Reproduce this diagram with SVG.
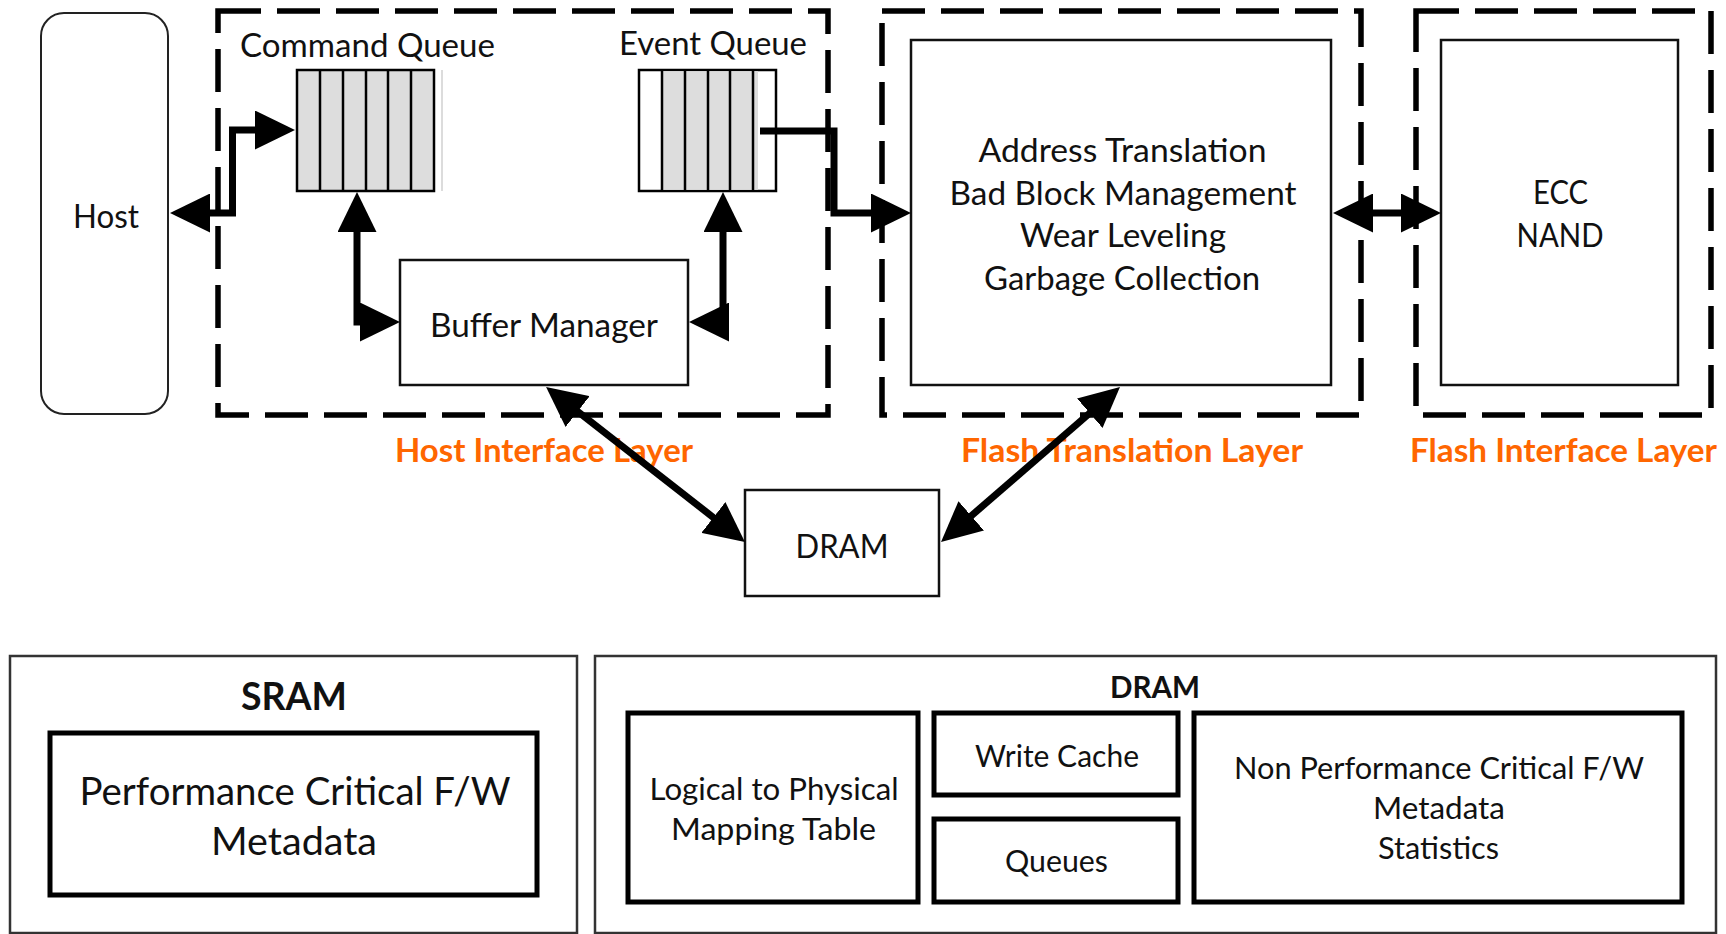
<svg xmlns="http://www.w3.org/2000/svg" width="1726" height="934" viewBox="0 0 1726 934">
  <defs>
    <style>
      text { font-family: Lato, "Liberation Sans", "DejaVu Sans", sans-serif; fill: #111; text-anchor: middle; }
      .t36 { font-size: 32.5px; }
      .t34 { font-size: 30.5px; }
      .t42 { font-size: 38px; }
      .layer { font-size: 32.5px; font-weight: bold; fill: #FF6600; }
      .head { font-weight: bold; }
      .dash { fill: none; stroke: #000; stroke-width: 5.5; stroke-dasharray: 43 16; }
      .box { fill: #fff; stroke: #111; stroke-width: 2.5; }
      .thick { fill: #fff; stroke: #000; stroke-width: 5; }
      .outer { fill: #fff; stroke: #333; stroke-width: 2.5; }
      .qline { stroke: #000; stroke-width: 2.5; }
      .conn { fill: none; stroke: #000; stroke-width: 7; stroke-linejoin: miter; }
    </style>
    <marker id="arrow" markerUnits="userSpaceOnUse" markerWidth="40" markerHeight="39"
            viewBox="0 0 40 39" refX="8" refY="19.5" orient="auto-start-reverse">
      <path d="M0,0 L40,19.5 L0,39 z" fill="#000"/>
    </marker>
  </defs>

  <rect width="1726" height="934" fill="#fff"/>

  <!-- layer frames -->
  <g id="host-interface-layer">
    <rect class="dash" x="218" y="11" width="610" height="404"/>
    <text class="layer" x="544" y="462" textLength="298" lengthAdjust="spacingAndGlyphs">Host Interface Layer</text>
  </g>
  <g id="flash-translation-layer">
    <rect class="dash" x="882" y="11" width="479" height="404"/>
    <text class="layer" x="1132" y="462" textLength="342" lengthAdjust="spacingAndGlyphs">Flash Translation Layer</text>
  </g>
  <g id="flash-interface-layer">
    <rect class="dash" x="1416" y="11" width="295" height="404"/>
    <text class="layer" x="1563.5" y="462" textLength="307" lengthAdjust="spacingAndGlyphs">Flash Interface Layer</text>
  </g>

  <!-- host -->
  <g id="host">
    <rect x="41" y="13" width="127" height="401" rx="23" ry="23" fill="#fff" stroke="#222" stroke-width="2"/>
    <text class="t36" x="106" y="228" textLength="66" lengthAdjust="spacingAndGlyphs">Host</text>
  </g>

  <!-- command queue -->
  <g id="command-queue">
    <text class="t36" x="367.5" y="57" textLength="255" lengthAdjust="spacingAndGlyphs">Command Queue</text>
    <line x1="442" y1="70" x2="442" y2="191" stroke="#d0d0d0" stroke-width="1.5"/>
    <rect x="297" y="70" width="137" height="121" fill="#dddddd" stroke="#000" stroke-width="2.5"/>
    <line class="qline" x1="320" y1="70" x2="320" y2="191"/>
    <line class="qline" x1="343" y1="70" x2="343" y2="191"/>
    <line class="qline" x1="366" y1="70" x2="366" y2="191"/>
    <line class="qline" x1="388" y1="70" x2="388" y2="191"/>
    <line class="qline" x1="411" y1="70" x2="411" y2="191"/>
  </g>

  <!-- event queue -->
  <g id="event-queue">
    <text class="t36" x="713" y="55" textLength="188" lengthAdjust="spacingAndGlyphs">Event Queue</text>
    <rect x="639" y="70" width="137" height="121" fill="#fff" stroke="#000" stroke-width="2.5"/>
    <rect x="662" y="71.25" width="96" height="118.5" fill="#dddddd"/>
    <line class="qline" x1="662" y1="70" x2="662" y2="191"/>
    <line class="qline" x1="685" y1="70" x2="685" y2="191"/>
    <line class="qline" x1="708" y1="70" x2="708" y2="191"/>
    <line class="qline" x1="730" y1="70" x2="730" y2="191"/>
    <line class="qline" x1="753" y1="70" x2="753" y2="191"/>
  </g>

  <!-- buffer manager -->
  <g id="buffer-manager">
    <rect class="box" x="400" y="260" width="288" height="125"/>
    <text class="t36" x="544" y="337" textLength="228" lengthAdjust="spacingAndGlyphs">Buffer Manager</text>
  </g>

  <!-- FTL functions -->
  <g id="ftl-functions">
    <rect class="box" x="911" y="40" width="420" height="345"/>
    <text class="t36" x="1122.5" y="162" textLength="288" lengthAdjust="spacingAndGlyphs">Address Translation</text>
    <text class="t36" x="1123" y="204.5" textLength="347" lengthAdjust="spacingAndGlyphs">Bad Block Management</text>
    <text class="t36" x="1123" y="247" textLength="206" lengthAdjust="spacingAndGlyphs">Wear Leveling</text>
    <text class="t36" x="1122" y="289.5" textLength="276" lengthAdjust="spacingAndGlyphs">Garbage Collection</text>
  </g>

  <!-- ECC / NAND -->
  <g id="ecc-nand">
    <rect class="box" x="1441" y="40" width="237" height="345"/>
    <text class="t36" x="1560.5" y="204" textLength="55" lengthAdjust="spacingAndGlyphs">ECC</text>
    <text class="t36" x="1560" y="247" textLength="87" lengthAdjust="spacingAndGlyphs">NAND</text>
  </g>

  <!-- DRAM (device) -->
  <g id="dram">
    <rect class="box" x="745" y="490" width="194" height="106"/>
    <text class="t36" x="842" y="558" textLength="93" lengthAdjust="spacingAndGlyphs">DRAM</text>
  </g>

  <!-- connectors -->
  <g id="connectors" class="conn">
    <path d="M202,213 H232.5 V130 H263" marker-start="url(#arrow)" marker-end="url(#arrow)"/>
    <path d="M357,224 V322 H368" marker-start="url(#arrow)" marker-end="url(#arrow)"/>
    <path d="M723,224 V322 H721" marker-start="url(#arrow)" marker-end="url(#arrow)"/>
    <path d="M760,131 H834 V213 H879" marker-end="url(#arrow)"/>
    <path d="M1365,213 H1409" marker-start="url(#arrow)" marker-end="url(#arrow)"/>
    <path d="M571.3,406.6 L719.7,522.4" marker-start="url(#arrow)" marker-end="url(#arrow)"/>
    <path d="M1095.8,407.9 L965.2,521.1" marker-start="url(#arrow)" marker-end="url(#arrow)"/>
  </g>

  <!-- SRAM contents -->
  <g id="sram">
    <rect class="outer" x="10" y="656" width="567" height="277"/>
    <text class="t42 head" x="294" y="710" textLength="106" lengthAdjust="spacingAndGlyphs">SRAM</text>
  </g>
  <g id="sram-metadata">
    <rect class="thick" x="50" y="733" width="487" height="162"/>
    <text class="t42" x="295" y="805" textLength="431" lengthAdjust="spacingAndGlyphs">Performance Critical F/W</text>
    <text class="t42" x="294" y="855" textLength="166" lengthAdjust="spacingAndGlyphs">Metadata</text>
  </g>

  <!-- DRAM contents -->
  <g id="dram-contents">
    <rect class="outer" x="595" y="656" width="1121" height="277"/>
    <text class="t34 head" x="1155" y="698" textLength="90" lengthAdjust="spacingAndGlyphs">DRAM</text>
  </g>
  <g id="mapping-table">
    <rect class="thick" x="628" y="713" width="290" height="189"/>
    <text class="t34" x="774" y="800" textLength="249" lengthAdjust="spacingAndGlyphs">Logical to Physical</text>
    <text class="t34" x="773.5" y="840" textLength="205" lengthAdjust="spacingAndGlyphs">Mapping Table</text>
  </g>
  <g id="write-cache">
    <rect class="thick" x="934" y="713" width="244" height="82"/>
    <text class="t34" x="1057" y="767" textLength="164" lengthAdjust="spacingAndGlyphs">Write Cache</text>
  </g>
  <g id="queues">
    <rect class="thick" x="934" y="819" width="244" height="83"/>
    <text class="t34" x="1056.5" y="872" textLength="103" lengthAdjust="spacingAndGlyphs">Queues</text>
  </g>
  <g id="dram-metadata">
    <rect class="thick" x="1194" y="713" width="488" height="189"/>
    <text class="t34" x="1439" y="779" textLength="410" lengthAdjust="spacingAndGlyphs">Non Performance Critical F/W</text>
    <text class="t34" x="1439" y="819" textLength="132" lengthAdjust="spacingAndGlyphs">Metadata</text>
    <text class="t34" x="1438.5" y="859" textLength="121" lengthAdjust="spacingAndGlyphs">Statistics</text>
  </g>
</svg>
